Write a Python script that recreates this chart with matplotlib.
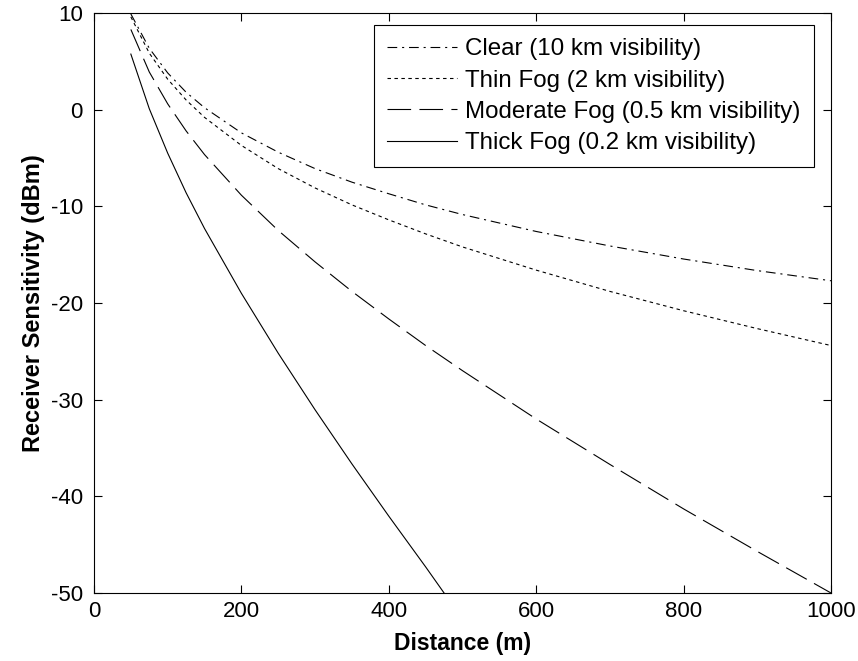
import matplotlib.pyplot as plt

plt.rcParams['font.family'] = ['Liberation Sans', 'DejaVu Sans']
plt.rcParams['lines.scale_dashes'] = False
plt.rcParams['axes.unicode_minus'] = False

# values
distance_m = [50, 75, 100, 125, 150, 200, 250, 300, 350, 400, 450, 500,
              600, 700, 800, 900, 1000]
clear_dbm = [9.9, 6.35, 3.8, 1.8, 0.2, -2.4, -4.4, -6.1, -7.5, -8.7, -9.85,
             -10.85, -12.6, -14.1, -15.45, -16.65, -17.7]
thin_fog_dbm = [9.6, 5.85, 3.15, 1.0, -0.8, -3.7, -6.1, -8.1, -9.85, -11.4,
                -12.85, -14.2, -16.6, -18.8, -20.8, -22.65, -24.4]
moderate_fog_dbm = [8.3, 3.9, 0.6, -2.2, -4.65, -8.85, -12.5, -15.75, -18.8,
                    -21.65, -24.4, -27.0, -32.0, -36.7, -41.3, -45.7, -50.0]

thick_distance_m = [50, 75, 100, 125, 150, 200, 250, 300, 350, 400, 450, 475]
thick_fog_dbm = [5.75, 0.1, -4.5, -8.6, -12.3, -19.0, -25.2, -31.05, -36.65,
                 -42.05, -47.3, -50.0]

labels = ['Clear (10 km visibility)', 'Thin Fog (2 km visibility)',
          'Moderate Fog (0.5 km visibility)', 'Thick Fog (0.2 km visibility)']

fig = plt.figure(figsize=(8.58, 6.61), dpi=100)
# plot box: x 94..831 px, y 13..593 px
ax = fig.add_axes([94 / 858, 68 / 661, 737 / 858, 580 / 661])

lw = 0.8
ax.plot(distance_m, clear_dbm, color='black', lw=lw, dashes=(7, 3.5, 1.5, 3.5), label=labels[0])
ax.plot(distance_m, thin_fog_dbm, color='black', lw=lw, dashes=(2.5, 2.5), label=labels[1])
ax.plot(distance_m, moderate_fog_dbm, color='black', lw=lw, dashes=(17, 6), label=labels[2])
ax.plot(thick_distance_m, thick_fog_dbm, color='black', lw=lw, linestyle='-', label=labels[3])

ax.set_xlim(0, 1000)
ax.set_ylim(-50, 10)
ax.set_xticks(range(0, 1001, 200))
ax.set_yticks(range(-50, 11, 10))
ax.tick_params(direction='in', top=True, right=True, length=6, width=0.8,
               labelsize=16)
ax.tick_params(axis='x', pad=6)
ax.tick_params(axis='y', pad=8)
for spine in ax.spines.values():
    spine.set_linewidth(0.8)

ax.set_xlabel('Distance (m)', fontsize=16.5, fontweight='bold', labelpad=7)
ax.set_ylabel('Receiver Sensitivity (dBm)', fontsize=17, fontweight='bold', labelpad=4)

leg = ax.legend(loc='upper right', bbox_to_anchor=(0.977, 0.979), borderaxespad=0,
                fontsize=17.4, fancybox=False, framealpha=1, edgecolor='black',
                handlelength=2.9, handletextpad=0.35, labelspacing=0.38, borderpad=0.55)
leg.get_frame().set_linewidth(0.8)

fig.savefig('out.png', dpi=100)
